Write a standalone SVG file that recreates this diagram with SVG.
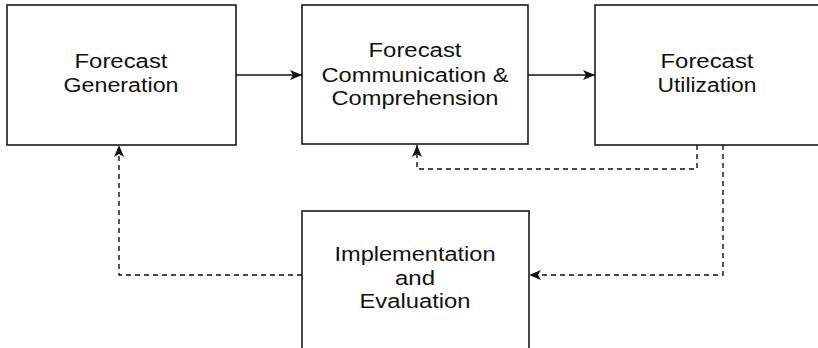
<svg xmlns="http://www.w3.org/2000/svg" width="818" height="348" viewBox="0 0 818 348">
<style>
.box{fill:#fff;stroke:#1a1a1a;stroke-width:1.6}
.lbl{font-family:"Liberation Sans",Arial,sans-serif;font-size:20px;fill:#111;text-anchor:middle}
.solid{fill:none;stroke:#111;stroke-width:1.6}
.dash{fill:none;stroke:#111;stroke-width:1.4;stroke-dasharray:5 4}
</style>
<defs>
<marker id="ah" viewBox="0 0 12 10" refX="12" refY="5" markerWidth="12" markerHeight="10" markerUnits="userSpaceOnUse" orient="auto">
<path d="M0,0 L12,5 L0,10 L3,5 Z" fill="#111"/>
</marker>
</defs>
<g id="gen">
<rect class="box" x="7" y="5" width="229" height="140"/>
<text class="lbl" x="121" y="68" textLength="93" lengthAdjust="spacingAndGlyphs">Forecast</text>
<text class="lbl" x="121" y="92" textLength="115" lengthAdjust="spacingAndGlyphs">Generation</text>
</g>
<g id="comm">
<rect class="box" x="302" y="5" width="226" height="139"/>
<text class="lbl" x="415" y="57" textLength="93" lengthAdjust="spacingAndGlyphs">Forecast</text>
<text class="lbl" x="415" y="82" textLength="187" lengthAdjust="spacingAndGlyphs">Communication &amp;</text>
<text class="lbl" x="415" y="105" textLength="167" lengthAdjust="spacingAndGlyphs">Comprehension</text>
</g>
<g id="util">
<rect class="box" x="595" y="5" width="226" height="140"/>
<text class="lbl" x="707" y="68" textLength="93" lengthAdjust="spacingAndGlyphs">Forecast</text>
<text class="lbl" x="707" y="92" textLength="99" lengthAdjust="spacingAndGlyphs">Utilization</text>
</g>
<g id="impl">
<rect class="box" x="302" y="211" width="227" height="150"/>
<text class="lbl" x="415" y="261" textLength="161" lengthAdjust="spacingAndGlyphs">Implementation</text>
<text class="lbl" x="415" y="285" textLength="40" lengthAdjust="spacingAndGlyphs">and</text>
<text class="lbl" x="415" y="308" textLength="111" lengthAdjust="spacingAndGlyphs">Evaluation</text>
</g>
<g id="connectors">
<line class="solid" x1="236" y1="75" x2="302" y2="75" marker-end="url(#ah)"/>
<line class="solid" x1="528" y1="75" x2="595" y2="75" marker-end="url(#ah)"/>
<polyline class="dash" points="697,145 697,169 417,169 417,145" marker-end="url(#ah)"/>
<polyline class="dash" points="723,145 723,275 529,275" marker-end="url(#ah)"/>
<polyline class="dash" points="302,275 119,275 119,145" marker-end="url(#ah)"/>
</g>
</svg>
